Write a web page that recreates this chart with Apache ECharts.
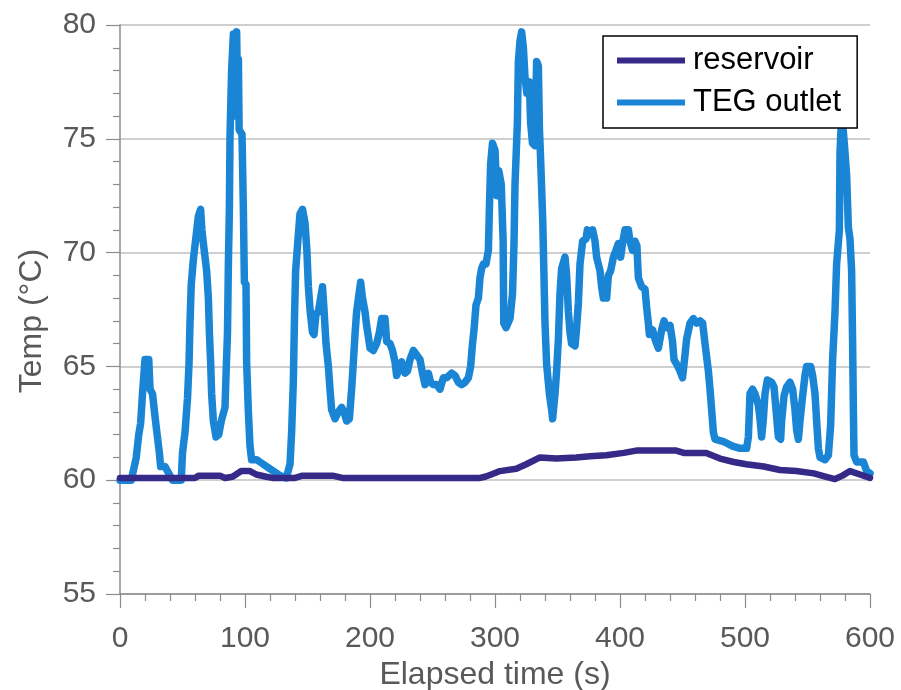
<!DOCTYPE html>
<html><head><meta charset="utf-8">
<script src="https://cdn.jsdelivr.net/npm/echarts@6/dist/echarts.min.js"></script>
<style>html,body{margin:0;padding:0;background:#fff}#c{width:901px;height:690px}</style>
</head><body><div id="c"></div>
<script>
const xTicks = [0, 100, 200, 300, 400, 500, 600];
const yTicks = [55, 60, 65, 70, 75, 80];
const seriesNames = ['reservoir', 'TEG outlet'];

const tegTime = [0,9,13,15,16.5,18,20,23,24,26,28,29.5,31.5,32.5,36,39,42,49,50,52,54,55.2,56,57,58.7,60.8,62.7,64.5,65.5,66.5,68,69.3,70.7,71.5,72.5,73.3,74.7,76.8,79,81,84,84.8,86,86.7,87.5,88,89.3,90.7,91.5,92.5,93.3,94,94.7,95.3,97.6,98.7,99.5,100.8,101.3,102.7,104,105.3,109.3,112,120,128,133,136,137.3,138.7,139.5,140.5,142.7,144,146,148,149.5,150.7,152,154,155.2,156.8,158.7,160.5,162,163.2,164.8,166.7,168,169.3,172,174.7,177.3,179.2,181.3,183.5,185.3,186.7,188,189.3,191.5,192.5,194,196,197.3,198.7,200,202.7,205.3,207.5,209.3,212,213.3,216,218,220,221.3,222.7,225.3,228,230,232,234.7,237.3,240,242,244,246.7,248.5,250.7,253.3,256,258.7,261.3,265.3,268,270.7,273.3,276,278.7,280.5,282,283.2,284.8,286.7,288,289.3,290.7,292.8,294.7,295.5,296.5,298,300,301.5,303,305,306.5,307,308.8,312,314,315.2,316,317.9,318.7,320,321.3,322.7,324,325.5,327.5,328.5,330,332,333.3,334.7,335.5,336.5,338.2,339.2,340,341.3,343.5,345.3,346.1,348,349.3,350.7,352,353.3,356,357.3,358.7,360,361.3,364,365.3,366.7,368,370.1,372.8,373.9,376,378.1,380,381.3,384,385.3,386.7,389.3,390.7,392.5,394.7,396.8,398.7,400.5,402,404,406.7,408,410,412,413.5,414.7,417.3,420,421.3,422.7,423.5,426.1,428,430.7,433.3,435.2,437.3,440,442,443.2,445.3,448,450,452,453.3,456,458.7,461.3,464,466.1,468,470.7,472,473.3,474.7,476,482.7,490,496,501.3,502.7,504,506.1,508,510.7,512,513.3,514.7,516,517.9,521.3,523.2,524.8,526.7,528.5,529.3,531.2,533.3,536,538.1,540,541.3,542.7,544,546.1,548,549.3,552.5,554.1,556,557.3,558.7,560,564,566.7,568.5,570.1,572,573.3,575.5,576,577.3,578.7,580,581.3,582.7,584,585.3,586.1,586.7,587.2,589.3,594.7,597.3,600];
const tegTemp = [60.0,60.0,61.0,62.0,62.5,63.8,65.3,65.3,64.0,63.8,62.8,62.1,61.2,60.6,60.6,60.3,60.0,60.0,61.2,62.1,63.6,65.1,66.9,68.6,69.7,70.7,71.6,71.9,71.0,70.5,70.5,69.2,68.0,66.5,65.2,63.8,62.6,61.9,62.0,62.6,63.2,64.6,66.5,69.5,71.9,75.1,78.0,79.6,76.0,79.5,79.7,77.0,78.5,75.4,75.2,71.9,68.7,68.6,65.2,63.0,61.5,60.9,60.9,60.8,60.5,60.2,60.1,60.7,62.1,64.4,66.9,69.2,70.8,71.7,71.9,71.3,70.1,68.5,67.5,66.5,66.4,67.3,67.4,68.0,68.5,67.5,66.0,65.0,64.0,63.1,62.7,63.0,63.2,63.0,62.6,62.7,64.0,65.2,66.4,67.4,68.3,68.7,68.0,67.4,66.8,66.3,65.8,65.7,66.0,66.5,67.1,67.1,66.1,66.0,65.7,65.2,64.6,64.6,65.2,64.7,64.8,65.3,65.7,65.5,65.3,64.7,64.2,64.7,64.3,64.2,64.2,64.0,64.5,64.5,64.7,64.6,64.3,64.2,64.3,64.5,65.0,66.0,66.6,67.7,68.0,68.9,69.3,69.5,69.5,70.1,71.9,73.9,74.8,74.5,72.5,73.6,73.0,70.5,66.9,66.7,67.1,68.2,70.4,73.0,75.7,78.4,79.3,79.7,79.0,77.7,77.0,77.5,75.7,74.8,74.7,78.4,78.2,75.5,74.1,71.4,68.9,66.9,65.1,63.8,63.1,62.7,63.8,64.8,66.2,68.2,69.3,69.8,69.0,67.4,66.5,66.0,65.9,66.7,67.8,69.5,70.5,70.6,71.0,70.8,71.0,70.5,69.8,69.2,68.5,68.0,68.0,69.0,69.2,69.8,70.1,70.4,69.8,70.4,71.0,71.0,70.5,70.1,70.5,70.3,68.9,68.5,68.4,67.6,66.9,66.4,66.6,66.2,65.8,66.6,67.0,66.7,66.8,66.1,65.3,65.1,64.8,64.5,65.5,66.2,66.9,67.1,66.9,67.0,66.9,66.0,64.8,64.0,63.1,62.1,61.8,61.7,61.5,61.4,61.4,61.9,63.8,64.0,63.8,63.3,62.7,61.9,62.7,63.8,64.4,64.3,64.1,63.1,61.9,61.8,62.6,63.7,64.1,64.3,64.0,63.1,62.2,61.8,62.6,63.7,64.6,65.0,65.0,64.6,63.8,62.6,61.4,61.0,60.9,61.1,62.4,65.3,67.4,69.5,71.0,74.4,76.0,75.3,74.4,73.4,71.1,70.6,69.2,66.0,63.1,61.1,60.8,60.8,60.4,60.3];

const resTime = [0,60,63,80,84,90,97,104,109,117,122,140,146,160,170,178,288,292,297,304,317,325,336,349,365,376,389,403,413,445,451,469,480,491,501,515,528,541,555,565,572,578,584,592,600];
const resTemp = [60.1,60.1,60.2,60.2,60.1,60.15,60.4,60.4,60.25,60.15,60.1,60.1,60.2,60.2,60.2,60.1,60.1,60.15,60.25,60.4,60.5,60.7,61.0,60.95,61.0,61.05,61.1,61.2,61.3,61.3,61.2,61.2,60.95,60.8,60.7,60.6,60.45,60.4,60.3,60.15,60.05,60.2,60.4,60.25,60.1];

const pair = (xs, ys) => xs.map((x, i) => [x, ys[i]]);
const FONT = '"Liberation Sans", Arial, sans-serif';
const GRAY = '#595959';
const AX = '#8c8c8c';

const chart = echarts.init(document.getElementById('c'), null, {renderer: 'canvas'});
chart.setOption({
  animation: false,
  backgroundColor: '#fff',
  grid: {left: 120, top: 25, width: 750, height: 569, containLabel: false, outerBoundsMode: 'none'},
  legend: {
    data: seriesNames,
    orient: 'vertical',
    left: 603, top: 36,
    padding: [9, 16, 10, 14],
    itemGap: 11,
    itemWidth: 68, itemHeight: 6,
    icon: 'rect',
    backgroundColor: '#fff',
    borderColor: '#000', borderWidth: 1.5, borderRadius: 0,
    textStyle: {fontFamily: FONT, fontSize: 31, color: '#000', padding: [0, 0, 0, 3]},
    z: 10
  },
  xAxis: {
    type: 'value', min: xTicks[0], max: xTicks[xTicks.length - 1], interval: 100,
    name: 'Elapsed time (s)', nameLocation: 'middle', nameGap: 63,
    nameTextStyle: {fontFamily: FONT, fontSize: 32, color: GRAY},
    axisLine: {show: true, onZero: false, lineStyle: {color: AX, width: 1.5}},
    axisTick: {show: true, inside: false, length: 14, lineStyle: {color: AX, width: 1.2}},
    minorTick: {show: true, splitNumber: 5, length: 7, lineStyle: {color: AX, width: 1.2}},
    axisLabel: {fontFamily: FONT, fontSize: 30, color: GRAY, margin: 30},
    splitLine: {show: false}
  },
  yAxis: {
    type: 'value', min: yTicks[0], max: yTicks[yTicks.length - 1], interval: 5,
    name: 'Temp (°C)', nameLocation: 'middle', nameGap: 72, nameRotate: 90,
    nameTextStyle: {fontFamily: FONT, fontSize: 32, color: GRAY, padding: [0, 23, 0, 0]},
    axisLine: {show: true, onZero: false, lineStyle: {color: AX, width: 1.5}},
    axisTick: {show: true, length: 14, lineStyle: {color: AX, width: 1.2}},
    minorTick: {show: true, splitNumber: 5, length: 7, lineStyle: {color: AX, width: 1.2}},
    axisLabel: {fontFamily: FONT, fontSize: 30, color: GRAY, margin: 24},
    splitLine: {show: true, lineStyle: {color: '#bfbfbf', width: 1.5}}
  },
  series: [{
    name: 'TEG outlet', type: 'line', data: pair(tegTime, tegTemp),
    showSymbol: false, symbol: 'none', z: 2,
    lineStyle: {color: '#1a85d5', width: 7.5, join: 'round', cap: 'round'},
    itemStyle: {color: '#1a85d5'}
  }, {
    name: 'reservoir', type: 'line', data: pair(resTime, resTemp),
    showSymbol: false, symbol: 'none', z: 3,
    lineStyle: {color: '#352a87', width: 6.5, join: 'round', cap: 'round'},
    itemStyle: {color: '#352a87'}
  }]
});
</script></body></html>
